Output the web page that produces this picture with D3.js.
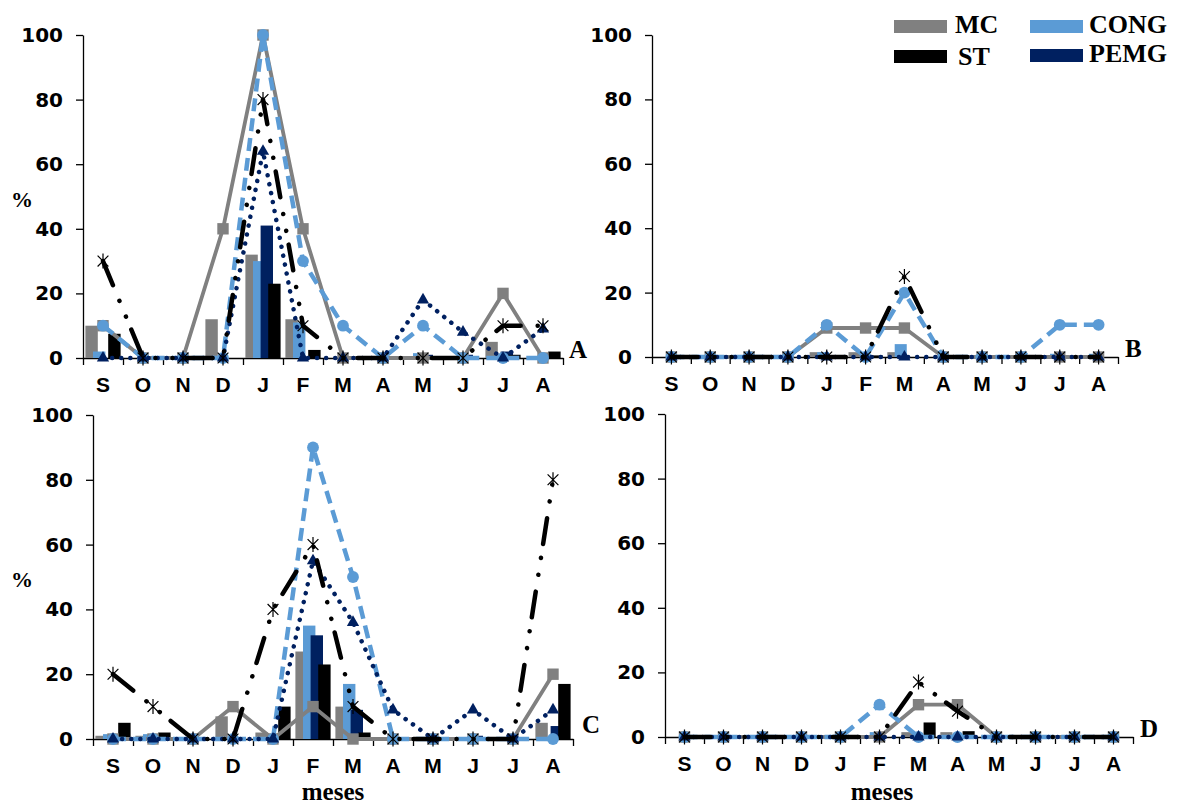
<!DOCTYPE html>
<html><head><meta charset="utf-8">
<script src="https://cdn.jsdelivr.net/npm/d3@7"></script>
<style>body{margin:0;background:#fff}svg{display:block}</style>
</head><body>
<svg id="c" width="1177" height="805"></svg>
<script>
// ---- data ----
const months = ["S","O","N","D","J","F","M","A","M","J","J","A"];
const seriesNames = ["MC","CONG","PEMG","ST"];
const yTicks = [0,20,40,60,80,100];

// Panel A
const A_barMC   = [10,0,0,12,32,12,0,0,0,0,5,0];
const A_barCONG = [2,0,0,0,30,11,0,0,1.5,0,0,0];
const A_barPEMG = [0,0,0,0,41,0,0,0,1,1,2,0];
const A_barST   = [7.5,0,0,0,23,2.5,0,0,0,0,1,2];
const A_lineMC   = [10,0,0,40,100,40,0,0,0,0,20,0];
const A_lineCONG = [10,0,0,0,100,30,10,0,10,0,0,0];
const A_linePEMG = [0,0,0,0,64,0,0,0,18,8,0,9];
const A_lineST   = [30,0,0,0,80,10,0,0,0,0,10,10];
// Panel B
const B_barMC   = [0,0,0,0,1.5,1.5,1.5,0,0,0,0,0];
const B_barCONG = [0,0,0,0,1.5,0,4,0,0,0,1,1];
const B_barPEMG = [0,0,0,0,0,0,0,0,0,0,0,0];
const B_barST   = [0,0,0,0,0,0.5,0,0,0,0,0,0];
const B_lineMC   = [0,0,0,0,9,9,9,0,0,0,0,0];
const B_lineCONG = [0,0,0,0,10,0,20,0,0,0,10,10];
const B_linePEMG = [0,0,0,0,0,0,0,0,0,0,0,0];
const B_lineST   = [0,0,0,0,0,0,25,0,0,0,0,0];
// Panel C
const C_barMC   = [1,1,0,7,2,27,10,0,0,0,0,5];
const C_barCONG = [1.5,1.5,0,0,0,35,17,0,0,0,0,0];
const C_barPEMG = [0,0,0,0,0,32,9,0,0,1,0,4];
const C_barST   = [5,2,0,0,10,23,2,0,0,0,0,17];
const C_lineMC   = [0,0,0,10,0,10,0,0,0,0,0,20];
const C_lineCONG = [0,0,0,0,0,90,50,0,0,0,0,0];
const C_linePEMG = [0,0,0,0,0,55,36,9,0,9,0,9];
const C_lineST   = [20,10,0,0,40,60,10,0,0,0,0,80];
// Panel D
const D_barMC   = [0,0,0,0,0,0,1.5,1.5,0,0,0,0];
const D_barCONG = [0,0,0,0,0,1.5,0,0,0,0,0,0];
const D_barPEMG = [0,0,0,0,0,0,0,0,0,0,0,0];
const D_barST   = [0,0,0,0,0,0,4.5,1.8,0,0,0,0];
const D_lineMC   = [0,0,0,0,0,0,10,10,0,0,0,0];
const D_lineCONG = [0,0,0,0,0,10,0,0,0,0,0,0];
const D_linePEMG = [0,0,0,0,0,0,0,0,0,0,0,0];
const D_lineST   = [0,0,0,0,0,0,17,8,0,0,0,0];

// ---- styles ----
const colors = {MC:"#808080", CONG:"#5B9BD5", PEMG:"#002060", ST:"#000000"};
const lineStyle = {
  MC:   {w:3.8, dash:null,                     cap:"butt"},
  CONG: {w:4.5, dash:"13,7",                   cap:"butt"},
  PEMG: {w:4.5, dash:"0.1,9",                  cap:"round"},
  ST:   {w:4.5, dash:"26,17,0.1,17,0.1,14",    cap:"round"}
};

const panels = [
  {id:"A", x0:83,  x1:563,  y0:358, y1:35,  bars:[A_barMC,A_barCONG,A_barPEMG,A_barST], lines:[A_lineMC,A_lineCONG,A_linePEMG,A_lineST], lx:569,  ly:358, pct:true,  meses:null},
  {id:"B", x0:652, x1:1118, y0:357, y1:35,  bars:[B_barMC,B_barCONG,B_barPEMG,B_barST], lines:[B_lineMC,B_lineCONG,B_linePEMG,B_lineST], lx:1125, ly:357, pct:false, meses:null},
  {id:"C", x0:93,  x1:573,  y0:739, y1:415, bars:[C_barMC,C_barCONG,C_barPEMG,C_barST], lines:[C_lineMC,C_lineCONG,C_linePEMG,C_lineST], lx:582,  ly:733, pct:true,  meses:333},
  {id:"D", x0:665, x1:1133, y0:737, y1:414, bars:[D_barMC,D_barCONG,D_barPEMG,D_barST], lines:[D_lineMC,D_lineCONG,D_linePEMG,D_lineST], lx:1140, ly:737, pct:false, meses:882}
];

const svg = d3.select("#c");
const numFont = "'DejaVu Sans', sans-serif";
const serif = "'Liberation Serif', 'Times New Roman', serif";

function asterisk(s){
  const d = s*0.72;
  return `M0,${-s}L0,${s}M${-d},${-d}L${d},${d}M${-d},${d}L${d},${-d}`;
}

panels.forEach(p => {
  const g = svg.append("g");
  const xb = d3.scaleBand().domain(d3.range(12)).range([p.x0, p.x1]);
  const xl = d3.scaleLinear().domain([0,12]).range([p.x0, p.x1]);
  const y  = d3.scaleLinear().domain([0,100]).range([p.y0, p.y1]);
  const cw = xb.bandwidth();
  const bw = cw*0.31, step = cw*0.19;
  const gStart = -(3*step+bw)/2;

  // y axis
  const ya = g.append("g").attr("transform",`translate(${p.x0},0)`)
    .call(d3.axisLeft(y).tickValues(yTicks).tickSize(7).tickSizeOuter(0).tickPadding(13));
  ya.select(".domain").attr("stroke","#000").attr("stroke-width",1.3);
  ya.selectAll(".tick line").attr("stroke","#000").attr("stroke-width",1.3);
  ya.selectAll(".tick text").attr("font-family",numFont).attr("font-weight","bold")
    .attr("font-size",20).attr("fill","#000");

  // x axis line + boundary ticks
  const xa = g.append("g").attr("transform",`translate(0,${p.y0})`)
    .call(d3.axisBottom(xl).tickValues(d3.range(13)).tickSize(7).tickSizeOuter(0).tickFormat(""));
  xa.select(".domain").attr("stroke","#000").attr("stroke-width",1.3);
  xa.selectAll(".tick line").attr("stroke","#000").attr("stroke-width",1.3);
  // category labels
  const xc = g.append("g").attr("transform",`translate(0,${p.y0})`)
    .call(d3.axisBottom(xb).tickSize(0).tickPadding(19).tickFormat(i => months[i]));
  xc.select(".domain").remove();
  xc.selectAll(".tick text").attr("font-family","'Liberation Sans', Arial, sans-serif")
    .attr("font-weight","bold").attr("font-size",21).attr("fill","#000");

  // bars
  seriesNames.forEach((s, si) => {
    g.append("g").selectAll("rect").data(p.bars[si]).join("rect")
      .attr("x",(d,i)=> xb(i) + cw/2 + gStart + si*step)
      .attr("width", bw)
      .attr("y", d => y(d))
      .attr("height", d => y(0) - y(d))
      .attr("fill", colors[s]);
  });

  // lines + markers
  seriesNames.forEach((s, si) => {
    const vals = p.lines[si];
    const ln = d3.line().x((d,i)=> xb(i)+cw/2).y(d=>y(d));
    const st = lineStyle[s];
    g.append("path").datum(vals).attr("d", ln)
      .attr("fill","none").attr("stroke", colors[s]).attr("stroke-width", st.w)
      .attr("stroke-dasharray", st.dash).attr("stroke-linecap", st.cap)
      .attr("stroke-linejoin","round");
    const mk = g.append("g").selectAll("path").data(vals).join("path")
      .attr("transform",(d,i)=>`translate(${xb(i)+cw/2},${y(d)})`);
    if (s === "MC") mk.attr("d", d3.symbol(d3.symbolSquare, 130)()).attr("fill", colors[s]);
    if (s === "CONG") mk.attr("d", d3.symbol(d3.symbolCircle, 110)()).attr("fill", colors[s]);
    if (s === "PEMG") mk.attr("d", d3.symbol(d3.symbolTriangle, 65)()).attr("fill", colors[s]);
    if (s === "ST") mk.attr("d", asterisk(7.5)).attr("fill","none").attr("stroke","#000").attr("stroke-width",1.2);
  });

  // panel letter
  g.append("text").attr("x",p.lx).attr("y",p.ly).text(p.id)
    .attr("font-family",serif).attr("font-weight","bold").attr("font-size",25).attr("fill","#000");
  if (p.pct) {
    g.append("text").attr("x",22).attr("y",(p.y0+p.y1)/2+10).text("%")
      .attr("text-anchor","middle").attr("font-family",serif).attr("font-weight","bold")
      .attr("font-size",22).attr("fill","#000");
  }
  if (p.meses) {
    g.append("text").attr("x",p.meses).attr("y",799.5).text("meses")
      .attr("text-anchor","middle").attr("font-family",serif).attr("font-weight","bold")
      .attr("font-size",25).attr("fill","#000");
  }
});

// legend
const legendPos = [
  {s:"MC",   rx:894,  ry:20, tx:955,  ty:33},
  {s:"CONG", rx:1030, ry:20, tx:1089, ty:33},
  {s:"PEMG", rx:1030, ry:49, tx:1089, ty:62},
  {s:"ST",   rx:894,  ry:50, tx:958,  ty:65}
];
const lg = svg.append("g");
lg.selectAll("rect").data(legendPos).join("rect")
  .attr("x",d=>d.rx).attr("y",d=>d.ry).attr("width",53).attr("height",13)
  .attr("fill",d=>colors[d.s]);
lg.selectAll("text").data(legendPos).join("text")
  .attr("x",d=>d.tx).attr("y",d=>d.ty).text(d=>d.s)
  .attr("font-family",serif).attr("font-weight","bold").attr("font-size",26).attr("fill","#000");
</script>
</body></html>
